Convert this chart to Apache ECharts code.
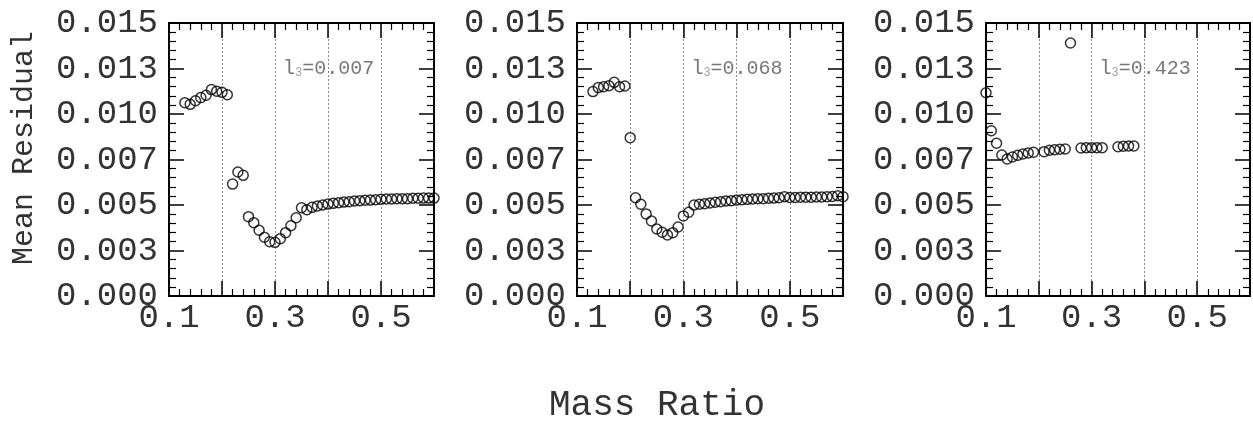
<!DOCTYPE html>
<html>
<head>
<meta charset="utf-8">
<script src="https://cdn.jsdelivr.net/npm/echarts@6/dist/echarts.min.js"></script>
<style>
html,body{margin:0;padding:0;background:#fff;}
#chart{width:1253px;height:421px;}
</style>
</head>
<body>
<div id="chart"></div>
<script>
// ---- data ----
const yTickLabels = ['0.000','0.003','0.005','0.007','0.010','0.013','0.015'];
const xTickLabels = ['0.1','','0.3','','0.5',''];
const panelLabels = ['=0.007','=0.068','=0.423'];

const massRatio1 = [0.13,0.14,0.15,0.16,0.17,0.18,0.19,0.20,0.21,0.22,0.23,0.24,0.25,0.26,0.27,0.28,0.29,0.30,0.31,0.32,0.33,0.34,0.35,0.36,0.37,0.38,0.39,0.40,0.41,0.42,0.43,0.44,0.45,0.46,0.47,0.48,0.49,0.50,0.51,0.52,0.53,0.54,0.55,0.56,0.57,0.58,0.59,0.60];
const residual1 = [0.01062,0.01053,0.01073,0.01090,0.01103,0.01134,0.01125,0.01119,0.01106,0.00615,0.00681,0.00663,0.00436,0.00403,0.00361,0.00323,0.00298,0.00295,0.00315,0.00348,0.00386,0.00430,0.00485,0.00474,0.00487,0.00495,0.00500,0.00505,0.00509,0.00513,0.00516,0.00518,0.00522,0.00524,0.00526,0.00527,0.00529,0.00531,0.00533,0.00533,0.00535,0.00535,0.00535,0.00537,0.00537,0.00538,0.00538,0.00538];

const massRatio2 = [0.13,0.14,0.15,0.16,0.17,0.18,0.19,0.20,0.21,0.22,0.23,0.24,0.25,0.26,0.27,0.28,0.29,0.30,0.31,0.32,0.33,0.34,0.35,0.36,0.37,0.38,0.39,0.40,0.41,0.42,0.43,0.44,0.45,0.46,0.47,0.48,0.49,0.50,0.51,0.52,0.53,0.54,0.55,0.56,0.57,0.58,0.59,0.60];
const residual2 = [0.01123,0.01145,0.01150,0.01155,0.01174,0.01150,0.01154,0.00870,0.00540,0.00504,0.00451,0.00412,0.00368,0.00350,0.00335,0.00348,0.00379,0.00440,0.00460,0.00500,0.00504,0.00507,0.00511,0.00515,0.00518,0.00522,0.00524,0.00527,0.00529,0.00531,0.00533,0.00535,0.00535,0.00537,0.00538,0.00540,0.00546,0.00541,0.00541,0.00543,0.00543,0.00543,0.00544,0.00544,0.00546,0.00547,0.00551,0.00546];

const massRatio3 = [0.10,0.11,0.12,0.13,0.14,0.15,0.16,0.17,0.18,0.19,0.21,0.22,0.23,0.24,0.25,0.26,0.28,0.29,0.30,0.31,0.32,0.35,0.36,0.37,0.38];
const residual3 = [0.01117,0.00908,0.00839,0.00775,0.00753,0.00764,0.00773,0.00780,0.00786,0.00790,0.00793,0.00801,0.00804,0.00806,0.00808,0.01390,0.00813,0.00815,0.00815,0.00815,0.00815,0.00820,0.00823,0.00824,0.00824];

const panels = [
  {x: massRatio1, y: residual1},
  {x: massRatio2, y: residual2},
  {x: massRatio3, y: residual3}
];

// ---- layout ----
const FONT = "'Liberation Mono', 'DejaVu Sans Mono', monospace";
const grids = [
  {left: 169, top: 23, width: 265, height: 273},
  {left: 577, top: 23, width: 266, height: 273},
  {left: 986, top: 23, width: 266, height: 273}
];
const annotPos = [0.315, 0.01258];

const xAxes = [], yAxes = [], series = [];
grids.forEach((g, i) => {
  ['bottom', 'top'].forEach(pos => {
    xAxes.push({
      type: 'value', gridIndex: i, position: pos, min: 0.1, max: 0.6, interval: 0.1,
      axisLine: {show: true, onZero: false, lineStyle: {color: '#000', width: 2}},
      axisTick: {show: true, inside: true, length: 15, lineStyle: {color: '#000', width: 1.5}},
      minorTick: {show: true, splitNumber: 5, length: 7, lineStyle: {color: '#000', width: 1.2}},
      splitLine: {show: pos === 'bottom', lineStyle: {color: '#888', type: [2, 2], width: 1}},
      axisLabel: {
        show: pos === 'bottom', margin: 5, fontFamily: FONT, fontSize: 34, color: '#333',
        formatter: v => xTickLabels[Math.round((v - 0.1) / 0.1)] || ''
      }
    });
  });
  ['left', 'right'].forEach(pos => {
    yAxes.push({
      type: 'value', gridIndex: i, position: pos, min: 0, max: 0.015, interval: 0.0025,
      axisLine: {show: true, onZero: false, lineStyle: {color: '#000', width: 2}},
      axisTick: {show: true, inside: true, length: 15, lineStyle: {color: '#000', width: 1.5}},
      minorTick: {show: true, splitNumber: 5, length: 7, lineStyle: {color: '#000', width: 1.2}},
      splitLine: {show: false},
      axisLabel: {
        show: pos === 'left', margin: 11, fontFamily: FONT, fontSize: 34, color: '#333',
        formatter: v => yTickLabels[Math.round(v / 0.0025)]
      }
    });
  });
  const p = panels[i];
  series.push({
    type: 'scatter', xAxisIndex: i * 2, yAxisIndex: i * 2,
    data: p.x.map((xv, k) => [xv, p.y[k]]),
    symbol: 'circle', symbolSize: 10,
    itemStyle: {color: 'rgba(255,255,255,0)', borderColor: '#000', borderWidth: 1.5},
    silent: true, z: 3
  });
  series.push({
    type: 'scatter', xAxisIndex: i * 2, yAxisIndex: i * 2,
    data: [annotPos], symbolSize: 0, silent: true, z: 2,
    label: {
      show: true, position: [0, 0], align: 'left', verticalAlign: 'middle',
      formatter: '{a|l}{b|3}{a|' + panelLabels[i] + '}',
      rich: {
        a: {fontFamily: FONT, fontSize: 20, color: '#555', verticalAlign: 'bottom', lineHeight: 24},
        b: {fontFamily: FONT, fontSize: 12, color: '#888', verticalAlign: 'bottom', lineHeight: 12}
      }
    }
  });
});

const chart = echarts.init(document.getElementById('chart'), null, {renderer: 'canvas'});
chart.setOption({
  animation: false,
  backgroundColor: '#fff',
  grid: grids,
  xAxis: xAxes,
  yAxis: yAxes,
  series: series,
  graphic: [
    {type: 'text', x: 24, y: 148, rotation: Math.PI / 2,
     style: {text: 'Mean Residual', fontFamily: FONT, fontSize: 30, fill: '#333', align: 'center', verticalAlign: 'middle'}},
    {type: 'text', x: 657, y: 405,
     style: {text: 'Mass Ratio', fontFamily: FONT, fontSize: 36, fill: '#333', align: 'center', verticalAlign: 'middle'}}
  ]
});
</script>
</body>
</html>
